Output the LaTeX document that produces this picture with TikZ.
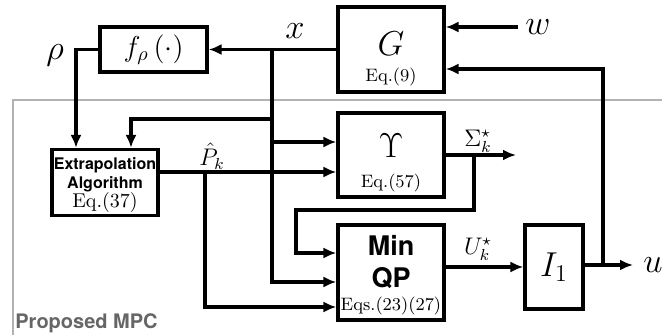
\documentclass[tikz,border=0pt]{standalone}
\usepackage{fontspec}
\setsansfont{TeX Gyre Heros}
\usepackage{amsmath}
\usetikzlibrary{arrows.meta,positioning,calc}

\begin{document}
\begin{tikzpicture}[x=0.5pt,y=-0.5pt,
  blk/.style={draw, line width=1.6pt, inner sep=0pt},
  wire/.style={line width=1.6pt},
  arr/.style={wire, -{Latex[length=6.5pt,width=5.5pt]}},
  eqn/.style={font=\small, inner sep=0pt},
  lbl/.style={font=\LARGE, inner sep=0pt},
  bsf/.style={font=\sffamily\bfseries, inner sep=0pt}]
\useasboundingbox (0,0) rectangle (662,335);

% MPC frame
\draw[black!30, line width=0.8pt] (13,335) -- (13,100) -- (662,100);
\node[bsf, text=black!60, anchor=west] (mpc) at (15,323) {Proposed MPC};

% Blocks
\node[blk, minimum width=53.5pt, minimum height=22.5pt] (frho) at (153.5,49.5) {\Large $f_\rho\left(\cdot\right)$};
\node[blk, minimum width=53pt, minimum height=42.5pt] (G) at (391,49.5) {};
\node[lbl] (Gname) at (391,44) {$G$};
\node[eqn] (Geq) at (391,77) {Eq.$(9)$};

\node[blk, minimum width=53pt, minimum height=33pt] (extr) at (105,182.5) {};
\node[bsf, font=\sffamily\bfseries\footnotesize] (extr1) at (105,165) {Extrapolation};
\node[bsf, font=\sffamily\bfseries\footnotesize] (extr2) at (105,184) {Algorithm};
\node[inner sep=0pt] (extr3) at (105,203) {Eq.$(37)$};

\node[blk, minimum width=53pt, minimum height=42pt] (ups) at (391,155) {};
\node[lbl] (upsname) at (391,146) {$\Upsilon$};
\node[eqn] (upseq) at (391,183) {Eq.$(57)$};

\node[blk, minimum width=53pt, minimum height=47.5pt] (qp) at (391,272.5) {};
\node[bsf, font=\sffamily\bfseries\fontsize{13.5}{15}\selectfont] (qp1) at (391,245) {Min};
\node[bsf, font=\sffamily\bfseries\fontsize{13.5}{15}\selectfont] (qp2) at (391,278) {QP};
\node[eqn] (qpeq) at (391,306) {Eqs.$(23)(27)$};

\node[blk, minimum width=29pt, minimum height=42pt] (I1) at (554,267) {\LARGE $I_1$};

% Signal labels
\node[lbl] (xlbl) at (295,31) {$x$};
\node[lbl] (wlbl) at (538,27) {$w$};
\node[lbl] (ulbl) at (653,265) {$u$};
\node[lbl] (rholbl) at (55,55) {$\rho$};
\node[font=\large, inner sep=0pt] (Plbl) at (212,156) {$\hat{P}_k$};
\node[font=\large, inner sep=0pt] (Slbl) at (478,141) {$\Sigma_k^\star$};
\node[font=\large, inner sep=0pt] (Ulbl) at (478,249) {$U_k^\star$};

% Bend points
\coordinate (xj) at (272,49.5);
\coordinate (wend) at (518,27);
\coordinate (rhoc) at (76,49.5);
\coordinate (xa) at (272,119);
\coordinate (xb) at (131,119);
\coordinate (xc) at (272,142);
\coordinate (xd) at (272,282);
\coordinate (pa) at (205,172);
\coordinate (pb) at (205,307);
\coordinate (sa) at (474,155);
\coordinate (sb) at (474,210);
\coordinate (sc) at (296,210);
\coordinate (sd) at (296,253);
\coordinate (send) at (516,155);
\coordinate (ua) at (603,265);
\coordinate (uend) at (633,265);
\coordinate (fb) at (603,69);

% Plant and state feedback
\draw[arr] (wend) -- (wend -| G.east);
\draw[arr] (G.west) -- (frho.east);
\draw[arr] (frho.west) -- (rhoc) -- (rhoc |- extr.north);
\draw[arr] (xj) -- (xd) -- (xd -| qp.west);
\draw[arr] (xa) -- (xb) -- (xb |- extr.north);
\draw[arr] (xc) -- (xc -| ups.west);

% Prediction
\draw[arr] (extr.east |- pa) -- (pa -| ups.west);
\draw[arr] (pa) -- (pb) -- (pb -| qp.west);
\draw[arr] (ups.east |- sa) -- (send);
\draw[arr] (sa) -- (sb) -- (sc) -- (sd) -- (sd -| qp.west);

% Control output
\draw[arr] (qp.east |- I1.west) -- (I1.west);
\draw[arr] (I1.east |- uend) -- (uend);
\draw[arr] (ua) -- (fb) -- (fb -| G.east);

\end{tikzpicture}
\end{document}
